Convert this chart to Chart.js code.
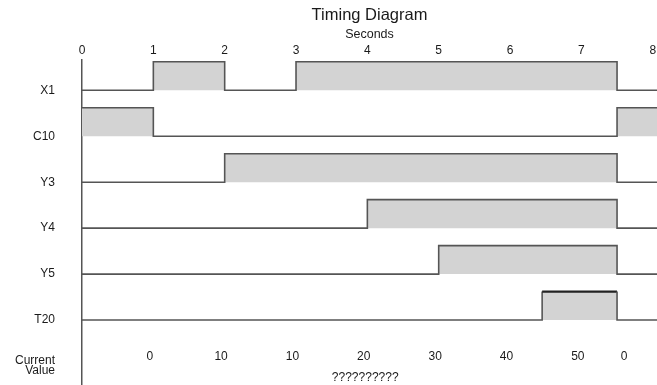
<!DOCTYPE html>
<html>
<head>
<meta charset="utf-8">
<title>Timing Diagram</title>
<script src="https://cdn.jsdelivr.net/npm/chart.js@4.4.1/dist/chart.umd.min.js"></script>
<style>
  html, body { margin: 0; padding: 0; background: #fff; }
  canvas { display: block; }
</style>
</head>
<body>
<canvas id="timing" width="657" height="385"></canvas>
<script>
// signals, top to bottom: time (s) of each change and the level held from it
const signalNames = ['X1', 'C10', 'Y3', 'Y4', 'Y5', 'T20'];
const x1Times = [0, 1, 2, 3, 7.5, 8.06];
const x1Levels = [0, 1, 0, 1, 0, 0];
const c10Times = [0, 1, 7.5, 8.06];
const c10Levels = [1, 0, 1, 1];
const y3Times = [0, 2, 7.5, 8.06];
const y3Levels = [0, 1, 0, 0];
const y4Times = [0, 4, 7.5, 8.06];
const y4Levels = [0, 1, 0, 0];
const y5Times = [0, 5, 7.5, 8.06];
const y5Levels = [0, 1, 0, 0];
const t20Times = [0, 6.45, 7.5, 7.5, 8.06];
const t20Levels = [0, 1, 1, 0, 0];

// top axis (seconds)
const secondTicks = [0, 1, 2, 3, 4, 5, 6, 7, 8];
// timer current value row
const currentTimes = [0.95, 1.95, 2.95, 3.95, 4.95, 5.95, 6.95, 7.6];
const currentValues = ['0', '10', '10', '20', '30', '40', '50', '0'];
const footnote = '??????????';

const rowLabels = signalNames.concat([['Current', 'Value']]);
const rowTicks = [0, 1, 2, 3, 4, 5, 5.99];

const timesList = [x1Times, c10Times, y3Times, y4Times, y5Times, t20Times];
const levelsList = [x1Levels, c10Levels, y3Levels, y4Levels, y5Levels, t20Levels];

const HIGH = 0.62;
const XMAX = 8.06;
const ink = '#1a1a1a';

Chart.defaults.font.family = "'Liberation Sans', Arial, sans-serif";
Chart.defaults.color = ink;

const datasets = signalNames.map((name, i) => {
  const ds = {
    label: name,
    data: timesList[i].map((t, k) => ({ x: t, y: i - levelsList[i][k] * HIGH })),
    stepped: true,
    borderColor: '#555',
    borderWidth: 1.6,
    backgroundColor: '#d3d3d3',
    fill: { value: i },
    pointRadius: 0
  };
  if (name === 'T20') {
    // top edge of the T20 pulse is heavier
    const topEdge = ctx => ctx.p0.parsed.y < i - 0.1 && ctx.p1.parsed.y < i - 0.1;
    ds.segment = {
      borderColor: ctx => topEdge(ctx) ? '#222' : undefined,
      borderWidth: ctx => topEdge(ctx) ? 2.2 : undefined
    };
  }
  return ds;
});

// keep tick labels from shrinking the plot area
const noPad = sc => {
  sc.paddingLeft = 0; sc.paddingRight = 0;
  sc.paddingTop = 0; sc.paddingBottom = 0;
};
const hidden = { display: false, drawTicks: false };

new Chart(document.getElementById('timing'), {
  type: 'line',
  data: { datasets },
  options: {
    responsive: false,
    animation: false,
    events: [],
    layout: { padding: 0 },
    plugins: {
      legend: { display: false },
      tooltip: { enabled: false },
      title: {
        display: true, text: 'Timing Diagram', fullSize: false,
        font: { size: 16.5, weight: 'normal' }, padding: { top: 6, bottom: 0 }
      },
      subtitle: {
        display: true, text: 'Seconds', fullSize: false,
        font: { size: 12.5 }, padding: { top: 1, bottom: 0 }
      }
    },
    scales: {
      x: {
        type: 'linear', position: 'top', min: 0, max: XMAX,
        grid: hidden, border: { display: false },
        afterBuildTicks: sc => { sc.ticks = secondTicks.map(v => ({ value: v })); },
        ticks: { padding: 1.5, font: { size: 12 }, maxRotation: 0, autoSkip: false,
                 callback: v => String(v) },
        afterFit: sc => { sc.height = 17.5; noPad(sc); }
      },
      cv: {
        type: 'linear', axis: 'x', position: { y: 5.648 }, min: 0, max: XMAX,
        grid: hidden, border: { display: false },
        afterBuildTicks: sc => { sc.ticks = currentTimes.map(v => ({ value: v })); },
        ticks: { padding: 0, font: { size: 12 }, maxRotation: 0, autoSkip: false,
                 callback: (v, idx) => currentValues[idx] },
        afterFit: sc => { sc.height = 0; noPad(sc); }
      },
      note: {
        type: 'linear', axis: 'x', position: { y: 6.104 }, min: 0, max: XMAX,
        grid: hidden, border: { display: false },
        afterBuildTicks: sc => { sc.ticks = [{ value: 3.97 }]; },
        ticks: { padding: 0, font: { size: 12 }, maxRotation: 0, autoSkip: false,
                 callback: () => footnote },
        afterFit: sc => { sc.height = 0; noPad(sc); }
      },
      y: {
        type: 'linear', reverse: true, min: -0.674, max: 6.413,
        grid: hidden,
        border: { display: true, color: '#555', width: 1.5 },
        afterBuildTicks: sc => { sc.ticks = rowTicks.map(v => ({ value: v })); },
        ticks: { padding: 27, autoSkip: false, font: { size: 12, lineHeight: 0.8 },
                 callback: (v, idx) => rowLabels[idx] },
        afterFit: sc => { sc.width = 82; noPad(sc); }
      }
    }
  }
});
</script>
</body>
</html>
